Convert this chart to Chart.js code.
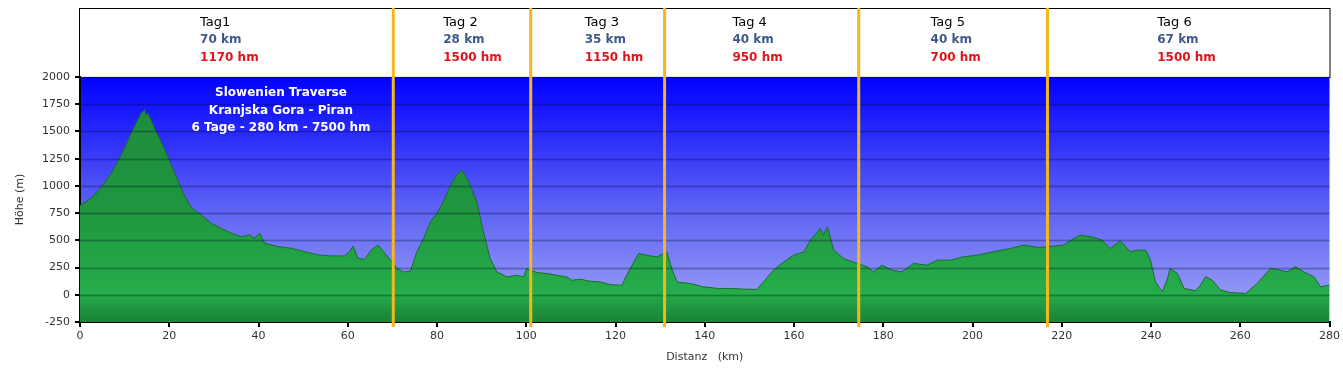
<!DOCTYPE html>
<html>
<head>
<meta charset="utf-8">
<script src="https://cdn.jsdelivr.net/npm/chart.js@4/dist/chart.umd.min.js"></script>
<style>
  html, body { margin: 0; padding: 0; background: #fff; }
  #wrap { width: 1343px; height: 376px; }
</style>
</head>
<body>
<div id="wrap"><canvas id="profil"></canvas></div>
<script>
// Höhenprofil (km / m)
const distKm = [0, 2.5, 4.8, 7.0, 9.3, 11.5, 13.7, 14.5, 14.8, 15.2, 16.7, 19.0, 21.2, 23.5, 25.0, 27.2, 29.4, 31.7, 33.9, 36.2,
  38.0, 39.0, 40.3, 41.4, 44.4, 47.4, 50.4, 53.4, 56.3, 59.3, 60.4, 61.2, 62.3, 63.8, 65.3, 66.8, 68.3, 70.2, 71.0, 72.5,
  74.0, 75.5, 77.0, 78.5, 80.0, 81.4, 82.9, 84.4, 85.6, 87.1, 88.9, 90.4, 91.9, 93.4, 95.7, 97.9, 99.4, 100.1, 102.4, 104.6,
  106.9, 109.1, 110.2, 112.1, 114.3, 116.6, 118.8, 121.4, 123.3, 125.2, 127.0, 129.3, 131.5, 132.6, 133.8, 136.8, 139.7, 143.1, 145.7, 148.7,
  151.7, 153.2, 155.4, 157.7, 159.9, 162.2, 163.7, 165.9, 166.6, 167.5, 168.9, 171.1, 174.1, 176.4, 177.8, 179.7, 182.0, 184.2, 186.8, 189.8,
  192.1, 195.0, 198.0, 201.0, 204.7, 208.5, 211.5, 214.8, 216.7, 220.4, 222.7, 224.2, 227.2, 229.0, 230.9, 233.1, 235.4, 236.9, 238.8, 239.9,
  241.0, 242.5, 243.6, 244.3, 245.9, 247.4, 250.0, 251.1, 252.2, 253.7, 255.6, 257.8, 261.2, 263.8, 266.8, 269.0, 270.5, 272.4, 274.2, 276.5,
  278.0, 280];
const hoeheM = [820, 886, 988, 1117, 1287, 1485, 1668, 1700, 1650, 1670, 1530, 1332, 1118, 904, 796, 732, 656, 610, 564, 534,
  550, 519, 564, 473, 442, 427, 396, 366, 357, 357, 396, 448, 335, 326, 412, 458, 381, 290, 241, 210,
  216, 394, 517, 670, 747, 854, 992, 1100, 1146, 1038, 854, 578, 333, 210, 164, 179, 164, 241, 204, 195,
  179, 164, 133, 143, 124, 118, 94, 88, 241, 379, 363, 348, 394, 241, 118, 103, 73, 58, 58, 52,
  49, 119, 226, 302, 363, 394, 502, 609, 548, 624, 410, 333, 288, 257, 211, 272, 226, 211, 288, 272,
  318, 318, 349, 364, 395, 425, 456, 434, 441, 456, 517, 548, 526, 502, 425, 495, 395, 410, 410, 318,
  119, 28, 135, 242, 196, 58, 37, 89, 165, 135, 43, 21, 12, 104, 242, 226, 211, 257, 211, 165,
  73, 89];

// Etappen
const tagGrenzenKm = [70.2, 101, 131, 174.5, 216.8];
const tagNamen = ['Tag1', 'Tag 2', 'Tag 3', 'Tag 4', 'Tag 5', 'Tag 6'];
const tagKm = ['70 km', '28 km', '35 km', '40 km', '40 km', '67 km'];
const tagHm = ['1170 hm', '1500 hm', '1150 hm', '950 hm', '700 hm', '1500 hm'];
const titelZeilen = ['Slowenien Traverse', 'Kranjska Gora - Piran', '6 Tage - 280 km - 7500 hm'];

const yTicks = [-250, 0, 250, 500, 750, 1000, 1250, 1500, 1750, 2000];

// layout: where the header texts start (in km of the x scale)
const labelAnKm = [26.9, 81.4, 113.1, 146.2, 190.6, 241.4];

const FONT = '"DejaVu Sans", Verdana, sans-serif';

const profilPlugin = {
  id: 'profil',
  beforeDraw(chart) {
    const { ctx, chartArea: a } = chart;
    ctx.save();
    // header box
    ctx.fillStyle = '#fff';
    ctx.fillRect(a.left - 1, 8, a.right - a.left + 2, a.top - 8);
    ctx.strokeStyle = '#000';
    ctx.lineWidth = 1;
    ctx.strokeRect(a.left - 0.5, 8.5, a.right - a.left + 1, a.top - 8);
    // sky
    const g = ctx.createLinearGradient(0, a.top, 0, a.bottom);
    g.addColorStop(0, '#0000ff');
    g.addColorStop(0.5, '#575cf4');
    g.addColorStop(1, '#a3a8f4');
    ctx.fillStyle = g;
    ctx.fillRect(a.left, a.top, a.right - a.left, a.bottom - a.top);
    ctx.restore();
  },
  afterDatasetsDraw(chart) {
    const { ctx, chartArea: a, scales } = chart;
    const x = scales.x, y = scales.y;
    ctx.save();
    // grid lines on top of the profile
    yTicks.forEach(v => {
      if (v === -250) return;
      const py = Math.round(y.getPixelForValue(v)) + 0.5;
      ctx.strokeStyle = 'rgba(0,0,40,0.10)';
      ctx.lineWidth = 3;
      ctx.beginPath(); ctx.moveTo(a.left, py); ctx.lineTo(a.right, py); ctx.stroke();
      ctx.strokeStyle = 'rgba(0,0,50,0.22)';
      ctx.lineWidth = 1;
      ctx.beginPath(); ctx.moveTo(a.left, py); ctx.lineTo(a.right, py); ctx.stroke();
    });
    // day separators
    ctx.strokeStyle = '#f4b81c';
    ctx.lineWidth = 3;
    tagGrenzenKm.forEach(k => {
      const px = x.getPixelForValue(k);
      ctx.beginPath(); ctx.moveTo(px, 8); ctx.lineTo(px, a.bottom + 5); ctx.stroke();
    });
    // header texts
    ctx.textBaseline = 'middle';
    ctx.textAlign = 'left';
    tagNamen.forEach((t, i) => {
      const px = x.getPixelForValue(labelAnKm[i]);
      ctx.font = '13px ' + FONT;
      ctx.fillStyle = '#000';
      ctx.fillText(t, px, 23);
      ctx.font = 'bold 12px ' + FONT;
      ctx.fillStyle = '#3d5a8a';
      ctx.fillText(tagKm[i], px, 40);
      ctx.fillStyle = '#e3121b';
      ctx.fillText(tagHm[i], px, 58);
    });
    // title in the plot
    ctx.textAlign = 'center';
    ctx.fillStyle = '#fff';
    ctx.font = 'bold 12px ' + FONT;
    titelZeilen.forEach((t, i) => {
      ctx.fillText(t, 281, 93 + i * 17.5);
    });
    ctx.restore();
  }
};

const punkte = distKm.map((k, i) => ({ x: k, y: hoeheM[i] }));

const ctxProfil = document.getElementById('profil');

const configProfil = {
  type: 'line',
  data: {
    datasets: [{
      label: 'Höhe',
      data: punkte,
      borderColor: '#1c6b30',
      borderWidth: 1,
      pointRadius: 0,
      tension: 0,
      fill: 'start',
      backgroundColor(c) {
        const a = c.chart.chartArea;
        if (!a) return '#22a045';
        const g = c.chart.ctx.createLinearGradient(0, a.top, 0, a.bottom);
        g.addColorStop(0, '#1e8a3c');
        g.addColorStop(0.55, '#1f963f');
        g.addColorStop(0.88, '#26ad4b');
        g.addColorStop(1, '#1a8236');
        return g;
      }
    }]
  },
  options: {
    responsive: true,
    maintainAspectRatio: false,
    animation: false,
    layout: { padding: { top: 77, right: 13, left: 0, bottom: 0 } },
    plugins: {
      legend: { display: false },
      tooltip: { enabled: false }
    },
    scales: {
      x: {
        type: 'linear',
        min: 0,
        max: 280,
        border: { color: '#000', width: 2 },
        grid: { drawOnChartArea: false, color: '#000', lineWidth: 2, tickLength: 5 },
        ticks: { stepSize: 20, color: '#333', font: { family: FONT, size: 11 }, padding: 3, maxRotation: 0 },
        title: { display: true, text: 'Distanz   (km)', color: '#333', font: { family: FONT, size: 11 }, padding: { top: 0, bottom: 12 } },
        afterFit(s) { s.height = 54; }
      },
      y: {
        min: -250,
        max: 2000,
        border: { color: '#000', width: 2 },
        grid: { drawOnChartArea: false, color: '#000', lineWidth: 2, tickLength: 5 },
        ticks: {
          stepSize: 250, color: '#333', font: { family: FONT, size: 11 }, padding: 5,
          callback: v => String(v)
        },
        title: { display: true, text: 'Höhe (m)', color: '#333', font: { family: FONT, size: 11 }, padding: { top: 14, bottom: 0 } },
        afterFit(s) { s.width = 80; }
      }
    }
  },
  plugins: [profilPlugin]
};

const profil = new Chart(ctxProfil, configProfil);
</script>
</body>
</html>
